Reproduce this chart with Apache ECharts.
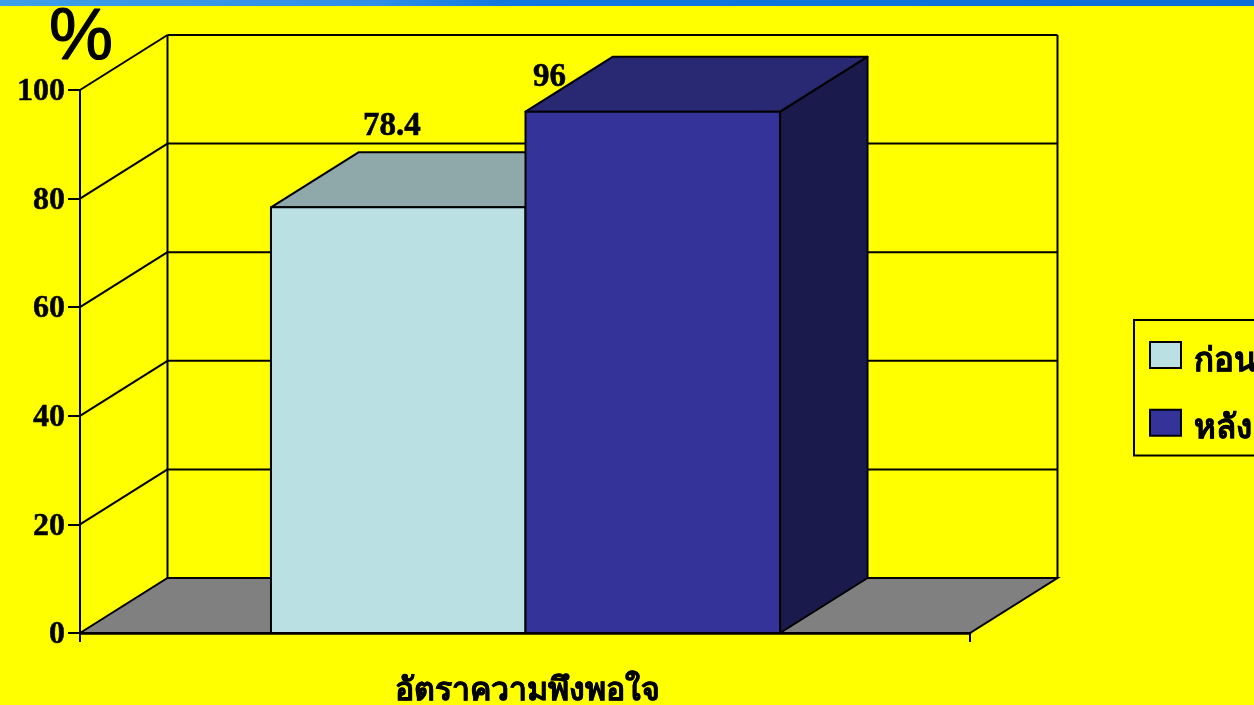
<!DOCTYPE html>
<html><head><meta charset="utf-8">
<style>html,body{margin:0;padding:0;background:#ff0;overflow:hidden}#c{width:1254px;height:705px}</style>
<script src="https://cdn.jsdelivr.net/npm/echarts@6/dist/echarts.min.js"></script>
</head><body><div id="c"></div>
<script>
const categories = ['อัตราความพึงพอใจ'];
const seriesNames = ['ก่อน', 'หลัง'];
const before = [78.4];
const after = [96];
const yTicks = [0, 20, 40, 60, 80, 100];

const DX = 87.5, DY = -55, BAR_FRAC = 0.286, SHIFT = 0.5;
const FONT = '"Liberation Serif","Noto Sans","DejaVu Serif",serif';
const LW = 2;
const ln = (x1,y1,x2,y2,w) => ({type:'line',shape:{x1,y1,x2,y2},style:{stroke:'#000',lineWidth:w||LW}});

function wall(params, api){
  const v = api.value(1), cs = params.coordSys, y = api.coord([0,v])[1];
  const L = cs.x, R = cs.x + cs.width, kids = [];
  if (v === 0) {
    kids.push({type:'polygon',shape:{points:[[L,y],[L+DX,y+DY],[R+DX,y+DY],[R,y]]},
      style:{fill:'#808080',stroke:'#000',lineWidth:LW}});
    kids.push(ln(L+DX,y+DY,L+DX,cs.y+DY));
    kids.push(ln(R+DX,y+DY,R+DX,cs.y+DY));
  } else {
    kids.push(ln(L,y,L+DX,y+DY));
    kids.push(ln(L+DX,y+DY,R+DX,y+DY));
  }
  return {type:'group',children:kids};
}
function box(colors, side, lab){
  return function(params, api){
    const top = api.coord([api.value(0), api.value(1)]);
    const base = api.coord([api.value(0), 0]);
    const w = api.size([1,0])[0] * BAR_FRAC;
    const x0 = (side < 0 ? top[0]-w : top[0]) + SHIFT, x1 = x0+w, t = top[1], b = base[1];
    const st = f => ({fill:f,stroke:'#000',lineWidth:LW,lineJoin:'round'});
    return {type:'group',children:[
      {type:'polygon',shape:{points:[[x1,b],[x1+DX,b+DY],[x1+DX,t+DY],[x1,t]]},style:st(colors[2])},
      {type:'polygon',shape:{points:[[x0,t],[x0+DX,t+DY],[x1+DX,t+DY],[x1,t]]},style:st(colors[1])},
      {type:'rect',shape:{x:x0,y:t,width:w,height:b-t},style:st(colors[0])},
      {type:'text',x:x0+lab[0],y:t+lab[1],style:{text:String(api.value(1)),font:'bold 33px '+FONT,fill:'#000',
        stroke:'#000',lineWidth:0.6,align:'center',verticalAlign:'middle'}}
    ]};
  };
}
const chart = echarts.init(document.getElementById('c'),null,{renderer:'canvas'});
chart.setOption({
  animation:false,
  backgroundColor:'#ffff00',
  graphic:[{type:'rect',silent:true,shape:{x:0,y:0,width:1254,height:6},
    style:{fill:new echarts.graphic.LinearGradient(0,0,1,0,[
      {offset:0,color:'#3d9fe6'},{offset:.3,color:'#2f8fe8'},{offset:.4,color:'#1277e0'},{offset:1,color:'#0a6ed6'}])}}],
  grid:{left:80,top:90,width:890,height:543,containLabel:false,outerBoundsMode:'none'},
  legend:{show:true,orient:'vertical',left:1134,top:320,data:seriesNames,icon:'rect',
    padding:[21,70,9,15],itemGap:30,itemWidth:31,itemHeight:26,
    borderColor:'#000',borderWidth:2,backgroundColor:'#ffff00',
    formatter:'{t|{name}}',
    textStyle:{rich:{t:{fontFamily:FONT,fontWeight:'bold',fontSize:33,color:'#000',padding:[14,0,0,8],
      textBorderColor:'#000',textBorderWidth:0.5}}}},
  xAxis:{type:'category',data:categories,
    axisLine:{show:true,lineStyle:{color:'#000',width:2.5}},
    axisTick:{show:true,alignWithLabel:false,length:9,lineStyle:{color:'#000',width:2}},
    axisLabel:{margin:43,fontFamily:FONT,fontWeight:'bold',fontSize:32,color:'#000',padding:[0,0,0,4],
      textBorderColor:'#000',textBorderWidth:0.5},z:10},
  yAxis:{type:'value',min:0,max:100,interval:20,name:'%',nameLocation:'end',nameGap:5,
    nameTextStyle:{fontFamily:'"Liberation Sans",Arial,sans-serif',fontSize:72,color:'#000',align:'center',padding:[0,0,0,2],
      textBorderColor:'#000',textBorderWidth:1.2},
    splitLine:{show:false},
    axisLine:{show:true,onZero:false,lineStyle:{color:'#000',width:2}},
    axisTick:{show:true,length:12,lineStyle:{color:'#000',width:2}},
    axisLabel:{margin:15,fontFamily:FONT,fontWeight:'bold',fontSize:32,color:'#000',verticalAlign:'top',lineHeight:4,
      textBorderColor:'#000',textBorderWidth:0.5},z:10},
  series:[
    {type:'custom',name:'_walls',coordinateSystem:'cartesian2d',silent:true,z:1,
      data:yTicks.map(v=>[0,v]),encode:{x:0,y:1},renderItem:wall},
    {type:'custom',name:seriesNames[0],coordinateSystem:'cartesian2d',z:2,
      itemStyle:{color:'#bae0e3',borderColor:'#000',borderWidth:2},
      data:before.map((v,i)=>[i,v]),encode:{x:0,y:1},
      renderItem:box(['#bae0e3','#8fa8aa','#5f7072'],-1,[121,-81])},
    {type:'custom',name:seriesNames[1],coordinateSystem:'cartesian2d',z:3,
      itemStyle:{color:'#333399',borderColor:'#000',borderWidth:2},
      data:after.map((v,i)=>[i,v]),encode:{x:0,y:1},
      renderItem:box(['#333399','#292973','#1a1a4d'],1,[24,-34])}
  ]
});
</script></body></html>
